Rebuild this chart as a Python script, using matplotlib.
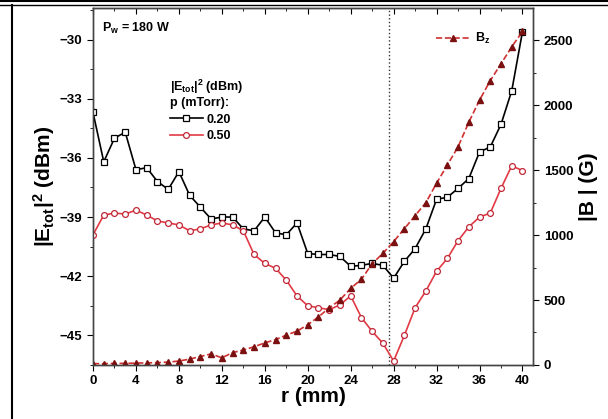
import numpy as np
import matplotlib
matplotlib.use('Agg')
import matplotlib.pyplot as plt
from matplotlib.lines import Line2D

plt.rcParams['font.family'] = ['Liberation Sans', 'DejaVu Sans']
plt.rcParams['font.weight'] = 'bold'
plt.rcParams['mathtext.fontset'] = 'custom'
plt.rcParams['mathtext.rm'] = 'Liberation Sans:bold'
plt.rcParams['mathtext.it'] = 'Liberation Sans:bold'
plt.rcParams['mathtext.bf'] = 'Liberation Sans:bold'

r = list(range(0, 41))

# |E_tot|^2 in dBm, p = 0.20 mTorr
e_020 = [-33.7, -36.2, -35.0, -34.7, -36.6, -36.5, -37.2, -37.6, -36.7, -37.9,
         -38.5, -39.1, -39.0, -39.0, -39.6, -39.7, -39.0, -39.8, -39.9, -39.3,
         -40.85, -40.9, -40.9, -41.0, -41.5, -41.45, -41.35, -41.45, -42.1, -41.25,
         -40.6, -39.6, -38.1, -38.0, -37.55, -37.05, -35.7, -35.45, -34.3, -32.6,
         -29.6]

# |E_tot|^2 in dBm, p = 0.50 mTorr
e_050 = [-39.9, -38.9, -38.8, -38.85, -38.65, -38.9, -39.2, -39.3, -39.4, -39.7,
         -39.6, -39.4, -39.3, -39.4, -39.7, -40.9, -41.35, -41.6, -42.2, -43.0,
         -43.5, -43.6, -43.7, -43.45, -43.0, -44.1, -44.8, -45.4, -46.3, -45.0,
         -43.6, -42.75, -41.75, -41.1, -40.2, -39.5, -39.0, -38.8, -37.55, -36.4,
         -36.65]

# |B| in G
b_z = [10, 10, 12, 12, 14, 16, 18, 22, 30, 45,
       65, 85, 55, 95, 115, 140, 170, 195, 230, 260,
       310, 370, 440, 500, 590, 660, 780, 860, 950, 1050,
       1150, 1250, 1400, 1540, 1680, 1870, 2040, 2190, 2320, 2450,
       2570]

fig = plt.figure(figsize=(6.08, 4.19), dpi=100)
ax = fig.add_axes([0.153, 0.129, 0.724, 0.852])
ax2 = ax.twinx()

ax.plot(r, e_020, color='black', lw=1.2, marker='s', ms=4.2, mfc='white',
        mec='black', mew=0.9, label='0.20', zorder=3)
ax.plot(r, e_050, color='#e23a44', lw=1.2, marker='o', ms=4.2, mfc='white',
        mec='#c02838', mew=0.9, label='0.50', zorder=3)
ax.axvline(27.6, color='#333333', ls=':', lw=1.0)

ax2.plot(r, b_z, color='#d03030', lw=1.2, ls='--', marker='^', ms=5,
         mfc='#7a1010', mec='#7a1010', label='B$_z$')

ax.set_xlim(0, 41)
ax.set_ylim(-46.4, -28.4)
ax2.set_ylim(0, 2750)

ax.set_xticks(range(0, 41, 4))
ax.set_xticks(range(0, 41, 2), minor=True)
ax.set_yticks([-45, -42, -39, -36, -33, -30])
ax.set_yticks(np.arange(-46.5, -28, 1.5), minor=True)
ax2.set_yticks([0, 500, 1000, 1500, 2000, 2500])
ax2.set_yticks(range(0, 2750, 250), minor=True)

ax.tick_params(axis='x', which='both', direction='out', labelsize=9.5, pad=3)
ax.tick_params(axis='x', which='major', length=4)
ax.tick_params(axis='x', which='minor', length=2.5)
ax.tick_params(axis='y', which='major', direction='out', length=4, labelsize=9.5)
ax.tick_params(axis='y', which='minor', direction='out', length=2.5)
ax2.tick_params(axis='y', which='major', direction='out', length=4, labelsize=9.5)
ax2.tick_params(axis='y', which='minor', direction='out', length=2.5)

# inward ticks along the top spine
top = ax.secondary_xaxis('top')
top.set_xticks(range(0, 41, 4))
top.set_xticks(range(0, 41, 2), minor=True)
top.tick_params(which='both', direction='in', labeltop=False)
top.tick_params(which='major', length=4)
top.tick_params(which='minor', length=2.5)
top.spines['top'].set_color('#444444')

for a in (ax, ax2):
    for s in a.spines.values():
        s.set_linewidth(1.0)
        s.set_color('#444444')

ax.set_xlabel('r (mm)', fontsize=15, fontweight='bold', labelpad=0)
ax.set_ylabel('|E$_{tot}$|$^2$ (dBm)', fontsize=15, fontweight='bold', labelpad=2)
ax2.set_ylabel('|B | (G)', fontsize=15, fontweight='bold', rotation=90, labelpad=4)

ax.text(0.02, 0.965, 'P$_w$ = 180 W', transform=ax.transAxes, fontsize=9,
        fontweight='bold', va='top', ha='left')

leg = ax.legend(title='|E$_{tot}$|$^2$ (dBm)\np (mTorr):', loc='upper left',
                bbox_to_anchor=(0.155, 0.83), frameon=False, fontsize=9,
                title_fontsize=9, handlelength=2.6, handletextpad=0.3,
                labelspacing=0.35, borderpad=0.2)
leg._legend_box.align = 'left'

ax2.legend(loc='upper left', bbox_to_anchor=(0.76, 0.96), frameon=False,
           fontsize=9, handlelength=2.6, handletextpad=0.5, borderpad=0.2)

# frame remnants from the source page
fig.add_artist(Line2D([0, 1], [0.997, 0.997], transform=fig.transFigure,
                      color='black', lw=1.5))
fig.add_artist(Line2D([0, 1], [0.988, 0.988], transform=fig.transFigure,
                      color='black', lw=1.0))
fig.add_artist(Line2D([0.019, 0.019], [0, 0.988], transform=fig.transFigure,
                      color='black', lw=1.5))

fig.savefig('out.png', dpi=100)
